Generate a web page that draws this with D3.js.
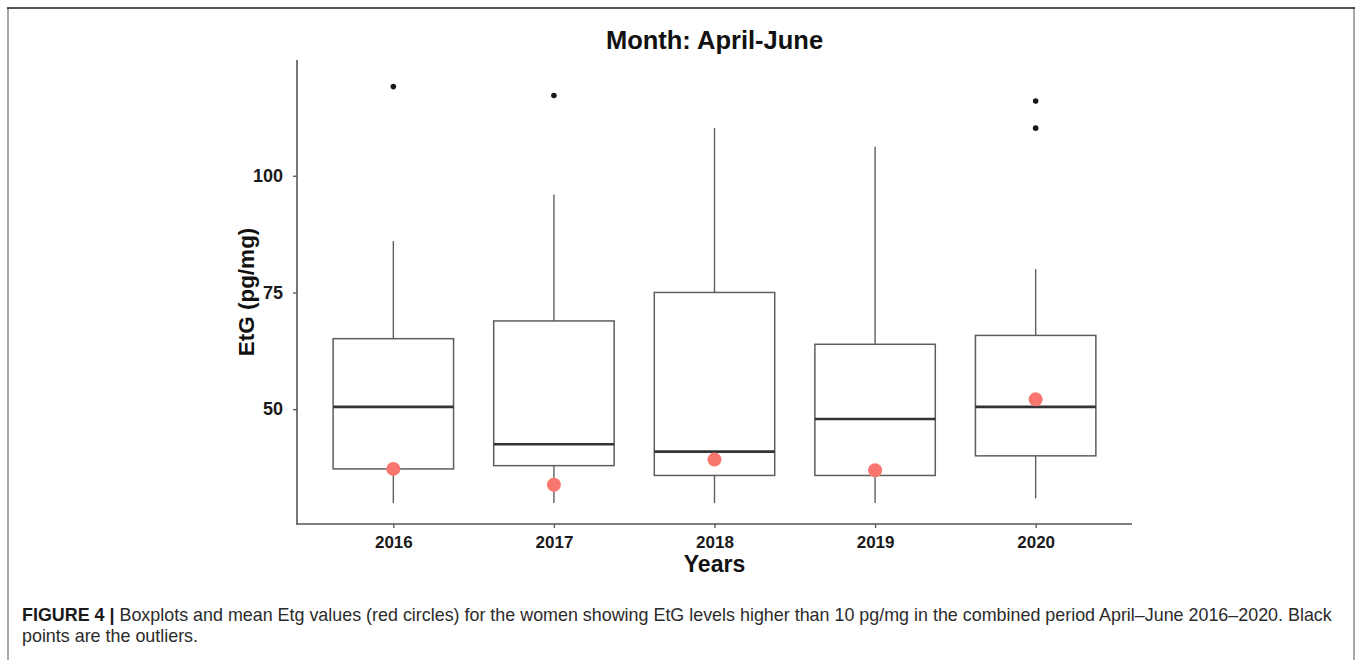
<!DOCTYPE html>
<html>
<head>
<meta charset="utf-8">
<script src="https://cdn.jsdelivr.net/npm/d3@7"></script>
<style>
  html, body { margin: 0; padding: 0; background: #fff; }
  svg { display: block; }
</style>
</head>
<body>
<svg id="chart" width="1360" height="660"></svg>
<script>
// EtG (pg/mg) box statistics per year, April-June
const years = ["2016", "2017", "2018", "2019", "2020"];
const whiskerLow = [29.9, 29.9, 29.9, 29.9, 30.9];
const q1 = [37.2, 37.9, 35.8, 35.8, 40.0];
const median = [50.5, 42.5, 40.9, 47.9, 50.5];
const q3 = [65.1, 68.9, 75.0, 63.9, 65.8];
const whiskerHigh = [86.0, 96.0, 110.2, 106.2, 80.0];
const means = [37.2, 33.8, 39.2, 36.9, 52.1];
const outlierYears = ["2016", "2017", "2020", "2020"];
const outlierValues = [119.1, 117.2, 116.0, 110.2];
const yTicks = [50, 75, 100];

const svg = d3.select("#chart");
const W = 1360, H = 660;
const panel = { left: 297, right: 1132, top: 60, bottom: 524 };

// Frame around figure and caption
svg.append("line").attr("x1", 8).attr("x2", 8).attr("y1", 8).attr("y2", H)
  .attr("stroke", "#8a8a8a").attr("stroke-width", 1.5);
svg.append("line").attr("x1", 1354).attr("x2", 1354).attr("y1", 8).attr("y2", H)
  .attr("stroke", "#8a8a8a").attr("stroke-width", 1.5);
svg.append("line").attr("x1", 7).attr("x2", 1355).attr("y1", 8).attr("y2", 8)
  .attr("stroke", "#1a1a1a").attr("stroke-width", 1.5);

// discrete axis: 0.6 unit expansion on each side
const step = (panel.right - panel.left) / (years.length - 1 + 1.2);
const x = d3.scalePoint().domain(years)
  .range([panel.left + 0.6 * step, panel.right - 0.6 * step]);
const boxW = step * 0.75;

const y = d3.scaleLinear().domain([25.4, 124.8]).range([panel.bottom, panel.top]);

const font = "'Liberation Sans', Arial, sans-serif";

// Title
svg.append("text").attr("x", (panel.left + panel.right) / 2).attr("y", 49)
  .attr("text-anchor", "middle").attr("font-family", font)
  .attr("font-weight", "bold").attr("font-size", 25.5).attr("fill", "#111")
  .text("Month: April-June");

// Axes
const yAxis = d3.axisLeft(y).tickValues(yTicks).tickSize(4).tickPadding(10);
const gy = svg.append("g").attr("transform", `translate(${panel.left},0)`).call(yAxis);
gy.select(".domain").remove();
gy.selectAll(".tick line").attr("stroke", "#555").attr("stroke-width", 1.3);
gy.selectAll(".tick text").attr("font-family", font).attr("font-weight", "bold")
  .attr("font-size", 18).attr("fill", "#1a1a1a");

const xAxis = d3.axisBottom(x).tickSize(4).tickPadding(8);
const gx = svg.append("g").attr("transform", `translate(0,${panel.bottom})`).call(xAxis);
gx.select(".domain").remove();
gx.selectAll(".tick line").attr("stroke", "#555").attr("stroke-width", 1.3);
gx.selectAll(".tick text").attr("font-family", font).attr("font-weight", "bold")
  .attr("font-size", 17).attr("fill", "#1a1a1a");

svg.append("line").attr("x1", panel.left).attr("x2", panel.left)
  .attr("y1", panel.top).attr("y2", panel.bottom + 0.75)
  .attr("stroke", "#555").attr("stroke-width", 1.6);
svg.append("line").attr("x1", panel.left - 0.75).attr("x2", panel.right)
  .attr("y1", panel.bottom).attr("y2", panel.bottom)
  .attr("stroke", "#555").attr("stroke-width", 1.6);

// Axis titles
svg.append("text").attr("x", (panel.left + panel.right) / 2).attr("y", 572)
  .attr("text-anchor", "middle").attr("font-family", font)
  .attr("font-weight", "bold").attr("font-size", 23).attr("fill", "#111")
  .text("Years");
svg.append("text")
  .attr("transform", `translate(254,${(panel.top + panel.bottom) / 2}) rotate(-90)`)
  .attr("text-anchor", "middle").attr("font-family", font)
  .attr("font-weight", "bold").attr("font-size", 22.5).attr("fill", "#111")
  .text("EtG (pg/mg)");

// Boxplots
const boxes = svg.append("g");
years.forEach((yr, i) => {
  const cx = x(yr);
  const g = boxes.append("g");
  g.append("line").attr("x1", cx).attr("x2", cx)
    .attr("y1", y(q3[i])).attr("y2", y(whiskerHigh[i]))
    .attr("stroke", "#5e5e5e").attr("stroke-width", 1.4);
  g.append("line").attr("x1", cx).attr("x2", cx)
    .attr("y1", y(q1[i])).attr("y2", y(whiskerLow[i]))
    .attr("stroke", "#5e5e5e").attr("stroke-width", 1.4);
  g.append("rect").attr("x", cx - boxW / 2).attr("width", boxW)
    .attr("y", y(q3[i])).attr("height", y(q1[i]) - y(q3[i]))
    .attr("fill", "#fff").attr("stroke", "#5e5e5e").attr("stroke-width", 1.5);
  g.append("line").attr("x1", cx - boxW / 2).attr("x2", cx + boxW / 2)
    .attr("y1", y(median[i])).attr("y2", y(median[i]))
    .attr("stroke", "#333").attr("stroke-width", 2.6);
});

// Outliers
svg.append("g").selectAll("circle").data(outlierValues).join("circle")
  .attr("cx", (d, i) => x(outlierYears[i])).attr("cy", d => y(d))
  .attr("r", 2.8).attr("fill", "#1a1a1a");

// Means
svg.append("g").selectAll("circle").data(means).join("circle")
  .attr("cx", (d, i) => x(years[i])).attr("cy", d => y(d))
  .attr("r", 7).attr("fill", "#f8766d");

// Caption
const capSize = 17.9;
const cap = svg.append("text").attr("x", 22).attr("y", 621)
  .attr("font-family", font).attr("font-size", capSize).attr("fill", "#2b2b2b");
cap.append("tspan").attr("font-weight", "bold").attr("fill", "#1a1a1a").text("FIGURE 4 | ");
cap.append("tspan").text("Boxplots and mean Etg values (red circles) for the women showing EtG levels higher than 10 pg/mg in the combined period April\u2013June 2016\u20132020. Black");
svg.append("text").attr("x", 22).attr("y", 642)
  .attr("font-family", font).attr("font-size", capSize).attr("fill", "#2b2b2b")
  .text("points are the outliers.");
</script>
</body>
</html>
